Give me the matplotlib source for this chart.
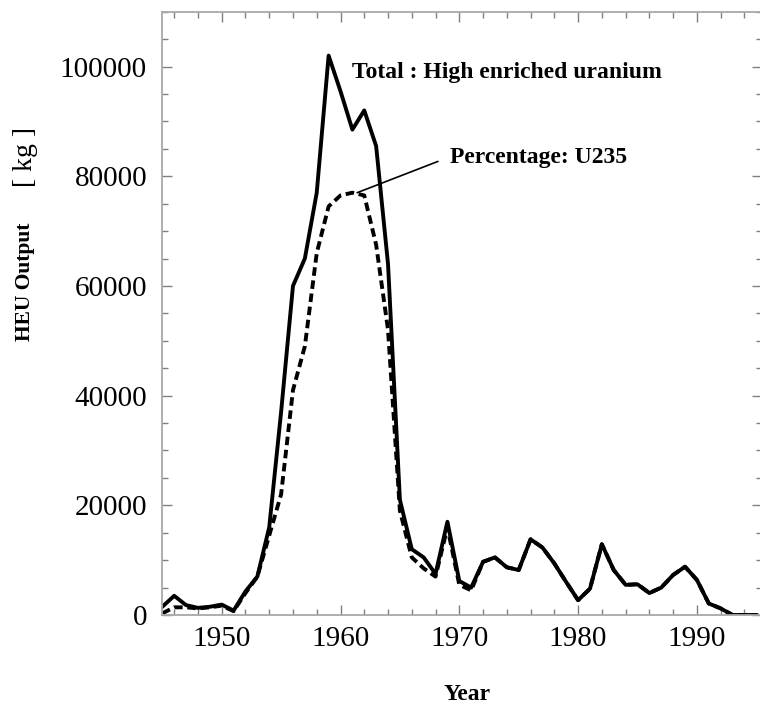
import numpy as np
import matplotlib
matplotlib.use("Agg")
import matplotlib.pyplot as plt
from matplotlib.ticker import MultipleLocator

plt.rcParams['font.family'] = ['Liberation Serif', 'DejaVu Serif']

# dados
anos = list(range(1945, 1996))
total = [1500, 3500, 1800, 1300, 1500, 1900, 800, 4300, 7000, 16000,
         37000, 60000, 65000, 77000, 102000, 95500, 88500, 92000, 85500, 64000,
         21000, 12000, 10500, 7500, 17000, 6200, 5000, 9700, 10500, 8700,
         8200, 13800, 12300, 9400, 6000, 2700, 4800, 12900, 8200, 5500,
         5600, 4000, 5000, 7300, 8800, 6400, 2100, 1200, 0, 0,
         0]
u235 = [300, 1400, 1400, 1200, 1400, 1700, 700, 4000, 7000, 14500,
        22000, 41000, 49000, 66000, 74500, 76500, 77000, 76500, 67500, 52000,
        19000, 10500, 8500, 7000, 16000, 5500, 4500, 9700, 10500, 8700,
        8200, 13800, 12300, 9400, 6000, 2700, 4800, 12900, 8200, 5500,
        5600, 4000, 5000, 7300, 8800, 6400, 2100, 1200, 0, 0,
        0]

W, H = 760, 709
fig = plt.figure(figsize=(W / 100, H / 100), dpi=100)
x0, x1 = 162.3, 761.5
y0, y1 = 615, 11.7
ax = fig.add_axes([x0 / W, (H - y0) / H, (x1 - x0) / W, (y0 - y1) / H])

ax.plot(anos, u235, color='black', lw=2.8, linestyle=(0, (2.2, 1.2)))
ax.plot(anos, total, color='black', lw=2.8)

ax.set_xlim(1945, 1945 + (x1 - x0) / 11.88)
ax.set_ylim(0, 110000)

ax.xaxis.set_major_locator(MultipleLocator(10))
ax.xaxis.set_minor_locator(MultipleLocator(2))
ax.yaxis.set_major_locator(MultipleLocator(20000))
ax.yaxis.set_minor_locator(MultipleLocator(5000))

for s in ax.spines.values():
    s.set_color('#a8a8a8')
    s.set_linewidth(1.3)

ax.tick_params(which='both', direction='in', top=True, right=True,
               color='#808080', labelsize=21, labelcolor='black')
ax.tick_params(which='major', length=7, width=1)
ax.tick_params(which='minor', length=4, width=1)
ax.tick_params(axis='y', pad=11)
ax.tick_params(axis='x', pad=8)

ax.text(1961.0, 98000, 'Total : High enriched uranium', fontsize=17,
        fontweight='bold', va='baseline', ha='left')
ax.text(1969.2, 83400, 'Percentage: U235', fontsize=17,
        fontweight='bold', va='center', ha='left')
ax.annotate('', xy=(1961.4, 77000), xytext=(1968.2, 82700),
            arrowprops=dict(arrowstyle='-', color='black', lw=1.2,
                            shrinkA=0, shrinkB=0))

fig.text(467 / W, 1 - 695 / H, 'Year', fontsize=17, fontweight='bold',
         ha='center', va='center')
fig.text(25 / W, 1 - 282 / H, 'HEU Output', fontsize=15.5, fontweight='bold',
         rotation=90, ha='center', va='center')
fig.text(25 / W, 1 - 157 / H, '[ kg ]', fontsize=20,
         rotation=90, ha='center', va='center')

fig.savefig('out.png', dpi=100)
